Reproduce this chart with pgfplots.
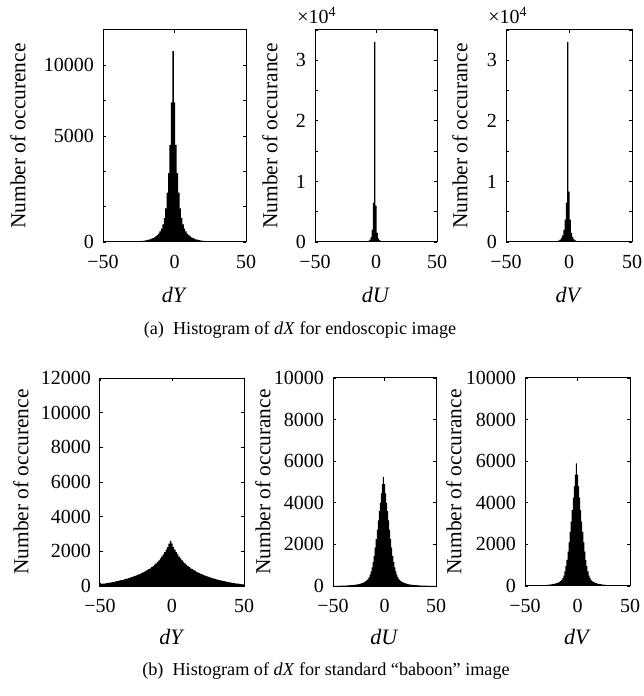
\documentclass[border=0pt]{standalone}
\usepackage{fontspec}
\setmainfont{Liberation Serif}
\usepackage{pgfplots}
\usepackage{pgfplotstable}
\pgfplotsset{compat=1.18}

% histogram counts, bins of width 1 from -50 to 50
% (a) endoscopic image
\pgfplotstableread{
x A1 A2 A3
-50 2 2 2
-49 3 2 2
-48 3 2 2
-47 4 2 2
-46 4 2 2
-45 5 2 2
-44 5 2 2
-43 6 2 2
-42 6 2 2
-41 7 2 2
-40 8 2 3
-39 9 2 3
-38 10 2 3
-37 11 2 3
-36 12 3 3
-35 14 3 3
-34 16 3 3
-33 18 3 3
-32 20 3 3
-31 22 3 3
-30 25 3 4
-29 28 3 4
-28 32 3 5
-27 36 3 5
-26 40 4 6
-25 46 4 6
-24 52 5 7
-23 60 5 8
-22 70 6 9
-21 80 7 10
-20 95 8 12
-19 110 9 14
-18 130 10 17
-17 155 11 20
-16 185 13 25
-15 220 15 30
-14 265 18 38
-13 320 22 48
-12 390 26 60
-11 480 32 80
-10 600 40 110
-9 750 50 160
-8 1000 80 250
-7 1350 120 400
-6 1900 200 700
-5 2800 400 1100
-4 3900 800 2000
-3 5500 2000 3700
-2 7900 6500 6500
-1 10800 33000 33000
0 7900 6000 8300
1 5500 1500 3700
2 3900 600 1500
3 2800 300 800
4 1900 150 450
5 1350 90 280
6 1000 60 180
7 750 50 120
8 600 40 90
9 480 32 70
10 390 26 55
11 320 22 45
12 265 18 36
13 220 15 30
14 185 13 25
15 155 11 20
16 130 10 17
17 110 9 14
18 95 8 12
19 80 7 10
20 70 6 9
21 60 5 8
22 52 5 7
23 46 4 6
24 40 4 6
25 36 3 5
26 32 3 5
27 28 3 4
28 25 3 4
29 22 3 3
30 20 3 3
31 18 3 3
32 16 3 3
33 14 3 3
34 12 3 3
35 11 2 3
36 10 2 3
37 9 2 3
38 8 2 3
39 7 2 2
40 6 2 2
41 6 2 2
42 5 2 2
43 5 2 2
44 4 2 2
45 4 2 2
46 3 2 2
47 3 2 2
48 2 2 2
49 2 2 2
50 2 2 2
}\endotab

% (b) baboon image
\pgfplotstableread{
x B1 B2 B3
-50 110 6 6
-49 120 7 7
-48 130 8 8
-47 140 9 9
-46 150 10 10
-45 163 11 11
-44 176 12 12
-43 190 13 13
-42 205 14 14
-41 222 15 15
-40 240 17 17
-39 260 19 19
-38 280 21 21
-37 300 23 23
-36 320 25 25
-35 340 29 28
-34 360 33 31
-33 382 37 34
-32 405 41 37
-31 430 45 40
-30 455 50 45
-29 480 57 51
-28 510 64 57
-27 540 72 63
-26 570 80 70
-25 600 92 78
-24 635 105 87
-23 670 120 97
-22 705 135 108
-21 740 150 120
-20 785 175 135
-19 830 200 150
-18 880 235 170
-17 930 280 200
-16 975 340 240
-15 1020 430 300
-14 1085 550 380
-13 1150 700 500
-12 1230 900 700
-11 1310 1150 950
-10 1390 1450 1250
-9 1480 1850 1650
-8 1600 2250 2100
-7 1700 2700 2600
-6 1820 3150 3100
-5 1950 3600 3650
-4 2100 4000 4250
-3 2250 4450 4800
-2 2450 4900 5350
-1 2600 5250 5900
0 2450 4900 5350
1 2250 4450 4800
2 2100 4000 4250
3 1950 3600 3650
4 1820 3150 3100
5 1700 2700 2600
6 1600 2250 2100
7 1480 1850 1650
8 1390 1450 1250
9 1310 1150 950
10 1230 900 700
11 1150 700 500
12 1085 550 380
13 1020 430 300
14 975 340 240
15 930 280 200
16 880 235 170
17 830 200 150
18 785 175 135
19 740 150 120
20 705 135 108
21 670 120 97
22 635 105 87
23 600 92 78
24 570 80 70
25 540 72 63
26 510 64 57
27 480 57 51
28 455 50 45
29 430 45 40
30 405 41 37
31 382 37 34
32 360 33 31
33 340 29 28
34 320 25 25
35 300 23 23
36 280 21 21
37 260 19 19
38 240 17 17
39 222 15 15
40 205 14 14
41 190 13 13
42 176 12 12
43 163 11 11
44 150 10 10
45 140 9 9
46 130 8 8
47 120 7 7
48 110 6 6
49 100 5 5
50 95 5 5
}\babtab

\pgfplotsset{
  hist/.style={
    scale only axis, axis on top, clip mode=individual,
    scaled y ticks=false,
    xmin=-50, xmax=50, ymin=0,
    xtick={-50,0,50}, xticklabels={−50,0,50},
    tick align=inside, major tick length=1.5pt,
    axis line style={line width=0.5pt},
    every tick/.style={black, line width=0.4pt},
    xticklabel style={yshift=-3pt},
    yticklabel style={xshift=-1pt},
    ylabel style={anchor=center, font=\fontsize{10.7}{12}\selectfont},
    xlabel style={anchor=center, font=\fontsize{11}{13}\selectfont},
  },
  toprow/.style={hist, height=106pt,
    xlabel style={at={([yshift=-26.5pt]axis description cs:0.5,0)}}},
  botrow/.style={hist, height=104pt,
    xlabel style={at={([yshift=-25.5pt]axis description cs:0.5,0)}}},
  ylabx/.style={ylabel style={at={([xshift=-#1]axis description cs:0,0.5)}}},
  bars/.style={fill=black, draw=none, const plot mark mid},
}

\begin{document}
\begin{tikzpicture}
\useasboundingbox (0,0) rectangle (321.5pt,348pt);

% ---- (a) endoscopic ----
\begin{axis}[toprow, at={(51.5pt,227pt)}, anchor=south west, width=71.5pt,
  ymax=12000, ytick={0,2000,...,10000}, yticklabels={0,,,5000,,10000},
  xlabel={\textit{dY}}, ylabel={Number of occurence}, ylabx=42.5pt]
  \addplot[bars] table[x=x, y=A1] {\endotab} \closedcycle;
\end{axis}

\begin{axis}[toprow, at={(157.5pt,227pt)}, anchor=south west, width=61pt,
  ymax=35000, ytick={0,5000,...,35000}, yticklabels={0,,1,,2,,3,},
  xlabel={\textit{dU}}, ylabel={Number of occurance}, ylabx=22.5pt]
  \addplot[bars] table[x=x, y=A2] {\endotab} \closedcycle;
  \node[anchor=south west, inner sep=0pt] at ([xshift=-9pt, yshift=3pt]rel axis cs:0,1) {×10\textsuperscript{4}};
\end{axis}

\begin{axis}[toprow, at={(253pt,227pt)}, anchor=south west, width=63pt,
  ymax=35000, ytick={0,5000,...,35000}, yticklabels={0,,1,,2,,3,},
  xlabel={\textit{dV}}, ylabel={Number of occurance}, ylabx=23pt]
  \addplot[bars] table[x=x, y=A3] {\endotab} \closedcycle;
  \node[anchor=south west, inner sep=0pt] at ([xshift=-9pt, yshift=3pt]rel axis cs:0,1) {×10\textsuperscript{4}};
\end{axis}

\node[font=\fontsize{9.1}{11}\selectfont] at (150pt,183pt)
  {(a)\ \ Histogram of \textit{dX} for endoscopic image};

% ---- (b) baboon ----
\begin{axis}[botrow, at={(50pt,55pt)}, anchor=south west, width=72pt,
  ymax=12000, ytick={0,2000,...,12000},
  yticklabels={0,2000,4000,6000,8000,10000,12000},
  xlabel={\textit{dY}}, ylabel={Number of occurence}, ylabx=39.5pt]
  \addplot[bars] table[x=x, y=B1] {\babtab} \closedcycle;
\end{axis}

\begin{axis}[botrow, at={(166.5pt,55pt)}, anchor=south west, width=51.5pt,
  ymax=10000, ytick={0,2000,...,10000},
  yticklabels={0,2000,4000,6000,8000,10000},
  xlabel={\textit{dU}}, ylabel={Number of occurance}, ylabx=35pt]
  \addplot[bars] table[x=x, y=B2] {\babtab} \closedcycle;
\end{axis}

\begin{axis}[botrow, at={(262.5pt,55pt)}, anchor=south west, width=52.5pt,
  ymax=10000, ytick={0,2000,...,10000},
  yticklabels={0,2000,4000,6000,8000,10000},
  xlabel={\textit{dV}}, ylabel={Number of occurance}, ylabx=35.5pt]
  \addplot[bars] table[x=x, y=B3] {\babtab} \closedcycle;
\end{axis}

\node[font=\fontsize{9.1}{11}\selectfont] at (163pt,12.5pt)
  {(b)\ \ Histogram of \textit{dX} for standard “baboon” image};
\end{tikzpicture}
\end{document}
